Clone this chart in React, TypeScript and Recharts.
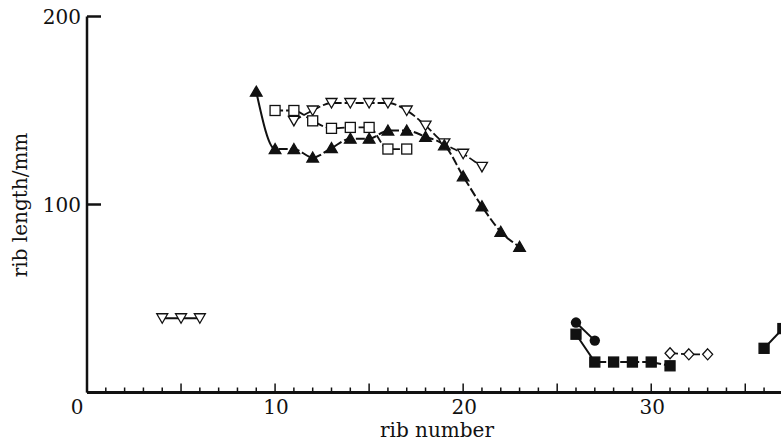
import { LineChart, Line, XAxis, YAxis, Customized } from "recharts";

// rib length (mm) against rib number, one list per specimen
const filledTriangles = [
  { x: 9, y: 160 }, { x: 10, y: 129.5 }, { x: 11, y: 129.5 }, { x: 12, y: 125 },
  { x: 13, y: 130 }, { x: 14, y: 135 }, { x: 15, y: 135 }, { x: 16, y: 139.3 },
  { x: 17, y: 139.3 }, { x: 18, y: 136 }, { x: 19, y: 131.5 }, { x: 20, y: 115 },
  { x: 21, y: 99 }, { x: 22, y: 85.5 }, { x: 23, y: 77.5 },
];
const openSquares = [
  { x: 10, y: 150 }, { x: 11, y: 150 }, { x: 12, y: 144.5 }, { x: 13, y: 140.5 },
  { x: 14, y: 141 }, { x: 15, y: 141 }, { x: 16, y: 129.5 }, { x: 17, y: 129.5 },
];
const openTriangles = [
  { x: 11, y: 144.5 }, { x: 12, y: 150 }, { x: 13, y: 154 }, { x: 14, y: 154 },
  { x: 15, y: 154 }, { x: 16, y: 154 }, { x: 17, y: 150 }, { x: 18, y: 142 },
  { x: 19, y: 132.5 }, { x: 20, y: 127 }, { x: 21, y: 120 },
];
const openTrianglesLow = [{ x: 4, y: 39.5 }, { x: 5, y: 39.5 }, { x: 6, y: 39.5 }];
const filledCircles = [{ x: 26, y: 37.2 }, { x: 27, y: 27.6 }];
const filledSquares = [
  { x: 26, y: 31 }, { x: 27, y: 16.2 }, { x: 28, y: 16.2 }, { x: 29, y: 16.2 },
  { x: 30, y: 16.2 }, { x: 31, y: 14.2 },
];
const filledSquaresTail = [{ x: 36, y: 23.5 }, { x: 37, y: 34 }];
const openDiamonds = [{ x: 31, y: 20.9 }, { x: 32, y: 20.3 }, { x: 33, y: 20.3 }];

const xTicks = [0, 1, 2, 3, 4, 5, 6, 7, 8, 9, 10, 11, 12, 13, 14, 15, 16, 17, 18,
  19, 20, 21, 22, 23, 24, 25, 26, 27, 28, 29, 30, 31, 32, 33, 34, 35, 36];
const yTicks = [0, 100, 200];

const font = "'DejaVu Serif', 'Liberation Serif', serif";
const ink = "#111";

type DotProps = { cx?: number; cy?: number; index?: number };

const triUp = (filled: boolean) => ({ cx, cy, index }: DotProps) =>
  cx == null || cy == null ? null : (
    <path key={index} d={`M${cx},${cy - 5.5} L${cx + 5.8},${cy + 4.5} L${cx - 5.8},${cy + 4.5} Z`}
      fill={filled ? ink : "#fff"} stroke={ink} strokeWidth={1.3} />
  );
const triDown = ({ cx, cy, index }: DotProps) =>
  cx == null || cy == null ? null : (
    <path key={index} d={`M${cx - 5.5},${cy - 4.5} L${cx + 5.5},${cy - 4.5} L${cx},${cy + 5} Z`}
      fill="#fff" stroke={ink} strokeWidth={1.3} />
  );
const square = (filled: boolean) => ({ cx, cy, index }: DotProps) =>
  cx == null || cy == null ? null : (
    <rect key={index} x={cx - 5} y={cy - 5} width={10} height={10}
      fill={filled ? ink : "#fff"} stroke={ink} strokeWidth={1.3} />
  );
const circle = ({ cx, cy, index }: DotProps) =>
  cx == null || cy == null ? null : <circle key={index} cx={cx} cy={cy} r={5.2} fill={ink} />;
const diamond = ({ cx, cy, index }: DotProps) =>
  cx == null || cy == null ? null : (
    <path key={index} d={`M${cx},${cy - 5.5} L${cx + 5},${cy} L${cx},${cy + 5.5} L${cx - 5},${cy} Z`}
      fill="#fff" stroke={ink} strokeWidth={1.3} />
  );

const XTick = ({ x, y, payload }: any) => {
  const v = payload.value;
  const len = v % 5 === 0 ? 9 : 5;
  return (
    <g>
      <line x1={x} x2={x} y1={y} y2={y - len} stroke={ink} strokeWidth={1.5} />
      {v % 10 === 0 && (
        <text x={v === 0 ? x - 10 : x + 1} y={y + 21} textAnchor="middle" fontFamily={font} fontSize={20} fill={ink}>
          {v}
        </text>
      )}
    </g>
  );
};

const YTick = ({ x, y, payload }: any) => {
  if (payload.value === 0) return null;
  return (
    <g>
      <line x1={x} x2={x + 14} y1={y} y2={y} stroke={ink} strokeWidth={2.5} />
      <text x={x - 6} y={y + 7} textAnchor="end" fontFamily={font} fontSize={20} fill={ink}>
        {payload.value}
      </text>
    </g>
  );
};

const AxisTitles = () => (
  <g fontFamily={font} fontSize={20} fill={ink}>
    <text x={437} y={437} textAnchor="middle">rib number</text>
    <text x={27} y={205} textAnchor="middle" transform="rotate(-90 27 205)">rib length/mm</text>
  </g>
);

const dashed = "8 3";
// first stretch drawn solid, the rest dashed
const leadSolid = "62 3 " + "9 3 ".repeat(60);
const squaresLead = "34 3 " + "8 3 ".repeat(30);

export default function App() {
  return (
    <div style={{ position: "absolute", left: 0, top: 0, width: 781, height: 442, background: "#fff" }}>
      <LineChart width={781} height={442} margin={{ top: 16.5, right: 0, bottom: 48.5, left: 86 }}>
        <XAxis type="number" dataKey="x" domain={[0, 36.9]} allowDataOverflow ticks={xTicks}
          interval={0} height={1} tickSize={0} tickMargin={0} tickLine={false}
          axisLine={{ stroke: ink, strokeWidth: 3 }} tick={<XTick />} />
        <YAxis type="number" dataKey="y" domain={[0, 200]} ticks={yTicks} width={1}
          tickSize={0} tickMargin={0} tickLine={false}
          axisLine={{ stroke: ink, strokeWidth: 2.5 }} tick={<YTick />} />
        <Line data={openTriangles} dataKey="y" type="monotone" stroke={ink} strokeWidth={1.8}
          strokeDasharray={dashed} dot={triDown} activeDot={false} isAnimationActive={false} />
        <Line data={openSquares} dataKey="y" type="monotone" stroke={ink} strokeWidth={1.8}
          strokeDasharray={dashed} dot={square(false)} activeDot={false} isAnimationActive={false} />
        <Line data={filledTriangles} dataKey="y" type="monotone" stroke={ink} strokeWidth={2}
          strokeDasharray={leadSolid} dot={triUp(true)} activeDot={false} isAnimationActive={false} />
        <Line data={openTrianglesLow} dataKey="y" stroke={ink} strokeWidth={1.8}
          dot={triDown} activeDot={false} isAnimationActive={false} />
        <Line data={filledCircles} dataKey="y" stroke={ink} strokeWidth={2}
          dot={circle} activeDot={false} isAnimationActive={false} />
        <Line data={filledSquares} dataKey="y" stroke={ink} strokeWidth={2}
          strokeDasharray={squaresLead} dot={square(true)} activeDot={false} isAnimationActive={false} />
        <Line data={filledSquaresTail} dataKey="y" stroke={ink} strokeWidth={2}
          dot={square(true)} activeDot={false} isAnimationActive={false} />
        <Line data={openDiamonds} dataKey="y" stroke={ink} strokeWidth={1.8}
          strokeDasharray={dashed} dot={diamond} activeDot={false} isAnimationActive={false} />
        <Customized component={AxisTitles} />
      </LineChart>
    </div>
  );
}
